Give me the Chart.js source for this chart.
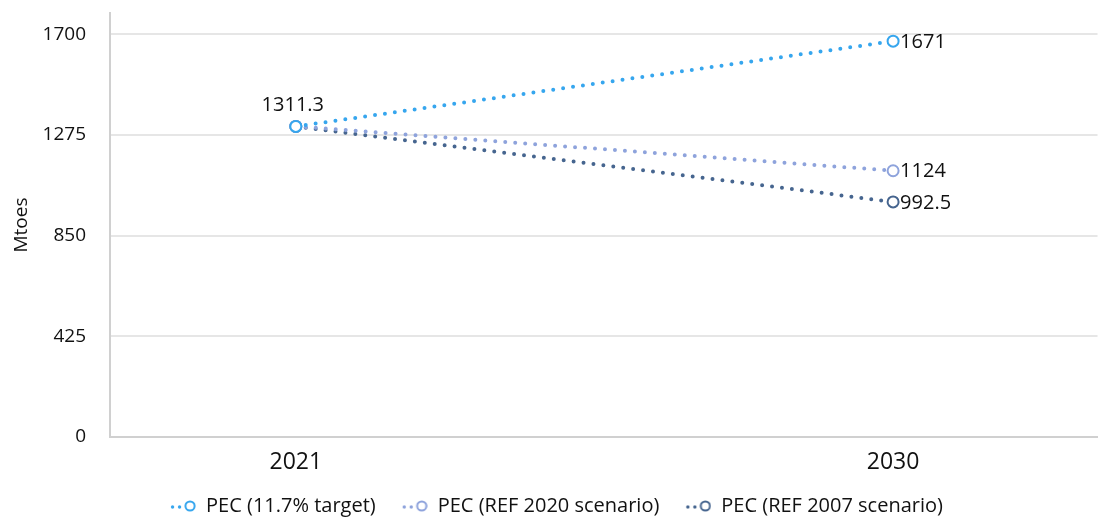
<!DOCTYPE html>
<html>
<head>
<meta charset="utf-8">
<script src="https://cdn.jsdelivr.net/npm/chart.js@4/dist/chart.umd.min.js"></script>
<style>
  html, body { margin: 0; padding: 0; background: #ffffff; }
  #wrap { width: 1105px; height: 519px; position: relative; }
</style>
</head>
<body>
<div id="wrap"><canvas id="chart"></canvas></div>
<script>
// Primary energy consumption paths, 2021 -> 2030
const years = [2021, 2030];
const yTicks = [0, 425, 850, 1275, 1700];
const seriesNames = ['PEC (11.7% target)', 'PEC (REF 2020 scenario)', 'PEC (REF 2007 scenario)'];
const pecTarget = [1311.3, 1671];
const pecRef2020 = [1311.3, 1124];
const pecRef2007 = [1311.3, 992.5];
const seriesColors = ['#36a6ee', '#8ea3dc', '#46658f'];

const seriesValues = [pecTarget, pecRef2020, pecRef2007];
const FONT = '"Open Sans", sans-serif';

// Legend swatch: two dots followed by a hollow marker
function legendSwatch(color) {
  const c = document.createElement('canvas');
  c.width = 26; c.height = 14;
  const g = c.getContext('2d');
  g.fillStyle = color;
  [2.5, 9.5].forEach(x => { g.beginPath(); g.arc(x, 8, 1.7, 0, Math.PI * 2); g.fill(); });
  g.strokeStyle = color; g.lineWidth = 2;
  g.beginPath(); g.arc(20, 7, 4.6, 0, Math.PI * 2); g.stroke();
  return c;
}

// Value labels beside the points
const valueLabels = {
  id: 'valueLabels',
  afterDatasetsDraw(chart) {
    const ctx = chart.ctx;
    ctx.save();
    ctx.font = '20px ' + FONT;
    ctx.fillStyle = '#111111';
    ctx.textBaseline = 'middle';
    chart.data.datasets.forEach((ds, i) => {
      const meta = chart.getDatasetMeta(i);
      meta.data.forEach((pt, j) => {
        const v = ds.data[j].y;
        if (j === 0) {
          if (i !== 0) return;
          ctx.textAlign = 'center';
          ctx.fillText(String(v), pt.x - 3, pt.y - 21);
        } else {
          ctx.textAlign = 'left';
          ctx.fillText(String(v), pt.x + 7, pt.y + 1);
        }
      });
    });
    ctx.restore();
  }
};

// Fixed legend band height at the bottom
const legendBand = {
  id: 'legendBand',
  beforeInit(chart) {
    const lg = chart.legend;
    if (!lg) return;
    const fit = lg.fit.bind(lg);
    lg.fit = function () { fit(); this.height = 49; };
  }
};

const datasets = seriesValues.map((vals, i) => ({
  label: seriesNames[i],
  data: years.map((yr, j) => ({ x: yr, y: vals[j] })),
  borderColor: seriesColors[i],
  backgroundColor: '#ffffff',
  borderWidth: 4,
  borderDash: [0, 10],
  borderCapStyle: 'round',
  pointRadius: 5.5,
  pointBorderWidth: 2,
  pointBorderColor: seriesColors[i],
  pointBackgroundColor: '#ffffff',
  order: i,
  tension: 0
}));

new Chart(document.getElementById('chart'), {
  type: 'line',
  data: { datasets },
  plugins: [valueLabels, legendBand],
  options: {
    responsive: true,
    maintainAspectRatio: false,
    animation: false,
    layout: { padding: { top: 13, right: 2, left: 10, bottom: 0 } },
    plugins: {
      legend: {
        position: 'bottom',
        labels: {
          usePointStyle: true,
          pointStyleWidth: 26,
          boxHeight: 14,
          padding: 26,
          color: '#111111',
          font: { family: FONT, size: 20 },
          generateLabels(chart) {
            return chart.data.datasets.map((ds, i) => ({
              text: ds.label,
              pointStyle: legendSwatch(seriesColors[i]),
              fillStyle: seriesColors[i],
              strokeStyle: seriesColors[i],
              fontColor: '#111111',
              lineWidth: 0,
              hidden: false,
              datasetIndex: i
            }));
          }
        }
      },
      tooltip: { enabled: false }
    },
    scales: {
      x: {
        type: 'linear',
        min: 2018.2,
        max: 2033.08,
        afterBuildTicks(axis) { axis.ticks = years.map(v => ({ value: v })); },
        afterFit(axis) {
          axis.height = 33;
          axis.paddingLeft = 0; axis.paddingRight = 0;
        },
        grid: { display: false, drawTicks: false },
        border: { color: '#d0d0d0', width: 2 },
        ticks: {
          color: '#111111',
          padding: 12,
          maxRotation: 0,
          font: { family: FONT, size: 23 },
          callback: v => String(v)
        }
      },
      y: {
        type: 'linear',
        min: 0,
        max: 1790,
        afterBuildTicks(axis) { axis.ticks = yTicks.map(v => ({ value: v })); },
        afterFit(axis) {
          axis.width = 100;
          axis.paddingTop = 0; axis.paddingBottom = 0;
        },
        grid: { color: '#e6e6e6', lineWidth: 2, drawTicks: false },
        border: { color: '#d0d0d0', width: 2 },
        title: {
          display: true,
          text: 'Mtoes',
          color: '#111111',
          font: { family: FONT, size: 19 },
          padding: { top: 0, bottom: 0 }
        },
        ticks: {
          color: '#111111',
          padding: 24,
          font: { family: FONT, size: 19 },
          callback: v => String(v)
        }
      }
    }
  }
});
</script>
</body>
</html>
